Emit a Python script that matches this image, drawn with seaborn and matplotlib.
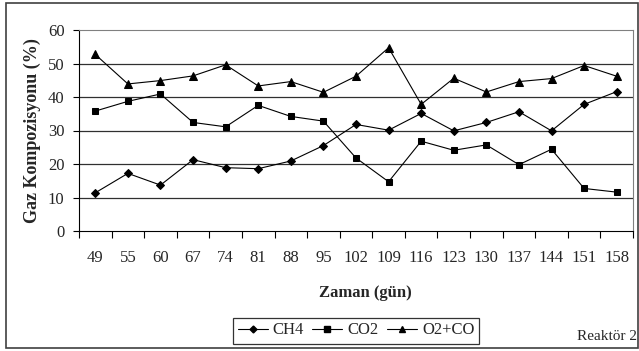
import matplotlib
matplotlib.use("Agg")
import matplotlib.pyplot as plt
import seaborn as sns
import pandas as pd
from matplotlib.lines import Line2D
from matplotlib.ticker import FixedLocator

days = ["49", "55", "60", "67", "74", "81", "88", "95", "102", "109", "116",
        "123", "130", "137", "144", "151", "158"]
ch4 = [11.4, 17.2, 13.7, 21.3, 18.9, 18.6, 20.9, 25.5, 31.8, 30.1, 35.1,
       29.9, 32.4, 35.6, 29.9, 37.8, 41.6]
co2 = [35.8, 38.7, 40.9, 32.4, 31.1, 37.5, 34.2, 32.8, 21.8, 14.7, 26.8,
       24.1, 25.7, 19.8, 24.4, 12.7, 11.6]
o2co = [52.7, 43.9, 44.9, 46.3, 49.6, 43.3, 44.6, 41.4, 46.2, 54.7, 37.8,
        45.6, 41.5, 44.6, 45.5, 49.4, 46.2]
series_names = ["CH4", "CO2", "O2+CO"]
y_ticks = [0, 10, 20, 30, 40, 50, 60]

rows = []
for name, vals in zip(series_names, [ch4, co2, o2co]):
    for i, (d, v) in enumerate(zip(days, vals)):
        rows.append({"pos": i, "day": d, "value": v, "series": name})
df = pd.DataFrame(rows)

sns.set_theme(style="white")
plt.rcParams["font.family"] = ["Liberation Serif", "DejaVu Serif"]

fig = plt.figure(figsize=(6.39, 3.51), dpi=100)
ax = fig.add_axes([79/639, 1-231/351, (633-79)/639, (231-30)/351])

markers = {"CH4": "D", "CO2": "s", "O2+CO": "^"}
sizes = {"CH4": 4.0, "CO2": 5.0, "O2+CO": 5.5}
for name in series_names:
    sub = df[df["series"] == name]
    sns.lineplot(data=sub, x="pos", y="value", ax=ax, color="black",
                 marker=markers[name], markersize=sizes[name], linewidth=0.8,
                 markeredgecolor="black", legend=False)

ax.set_xlim(-0.5, len(days) - 0.5)
ax.set_ylim(0, 60)
ax.set_yticks(y_ticks)
ax.set_yticklabels([str(t) for t in y_ticks], fontsize=12)
ax.set_xticks(range(len(days)))
ax.set_xticklabels(days, fontsize=12)
ax.xaxis.set_minor_locator(FixedLocator([i - 0.5 for i in range(len(days) + 1)]))
ax.tick_params(axis="x", which="major", length=0, pad=14)
ax.tick_params(axis="x", which="minor", length=5, width=0.8, color="black", direction="out", bottom=True)
ax.tick_params(axis="y", length=4.5, width=0.8, color="black", direction="out", left=True, pad=6)

for y in y_ticks[1:-1]:
    ax.axhline(y, color="#303030", linewidth=0.9, zorder=0)

ax.spines["left"].set_color("black")
ax.spines["bottom"].set_color("black")
ax.spines["left"].set_linewidth(0.8)
ax.spines["bottom"].set_linewidth(0.8)
ax.spines["top"].set_color("#808080")
ax.spines["right"].set_color("#808080")
ax.spines["top"].set_linewidth(0.8)
ax.spines["right"].set_linewidth(0.8)

ax.set_xlabel("Zaman (gün)", fontsize=12, fontweight="bold")
ax.xaxis.set_label_coords((365-79)/554, (231-285)/201)
ax.set_ylabel("Gaz Kompozisyonu (%)", fontsize=13, fontweight="bold")
ax.yaxis.set_label_coords((41-79)/554, 0.5)

handles = [Line2D([0], [0], color="black", marker=markers[n], markersize=sizes[n] - 0.5,
                  linewidth=0.8) for n in series_names]
leg = fig.legend(handles, series_names, loc="center", bbox_to_anchor=(356/639, 1-330.5/351),
                 ncol=3, frameon=True, fontsize=12, handlelength=1.8, handletextpad=0.3,
                 columnspacing=0.5, borderpad=0.3, fancybox=False)
leg.get_frame().set_edgecolor("black")
leg.get_frame().set_linewidth(0.9)

fig.text(637/639, 1-336/351, "Reaktör 2", fontsize=11, ha="right", va="center")

fig.patches.append(plt.Rectangle((6/639, 3/351), 632/639, 345/351, transform=fig.transFigure,
                                 fill=False, edgecolor="#404040", linewidth=1.2))

fig.savefig("out.png", dpi=100)
